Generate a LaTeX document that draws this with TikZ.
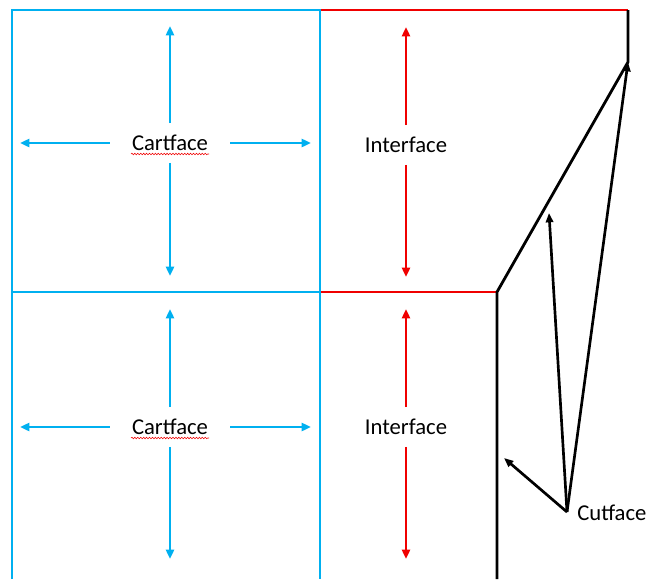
\documentclass[tikz,border=0pt]{standalone}
\usepackage{fontspec}
\setmainfont{Carlito}
\usetikzlibrary{arrows.meta,decorations.pathmorphing}
\definecolor{cartblue}{RGB}{0,176,240}
\definecolor{interred}{RGB}{240,0,0}
\tikzset{every picture/.style={line width=1.9pt}}
\tikzset{
  lbl/.style={inner sep=0pt,font=\fontsize{17}{20}\selectfont},
  facebox/.style={lbl,minimum width=88.5pt,minimum height=28pt},
  cartarrow/.style={color=cartblue,-{Triangle[length=7pt,width=6pt]}},
  interarrow/.style={color=interred,-{Triangle[length=7pt,width=6pt]}},
  cutarrow/.style={line width=2pt,-{Triangle[length=7pt,width=5.5pt]}},
  spell/.style={color=interred,line width=0.4pt,decorate,decoration={snake,amplitude=0.6pt,segment length=2.2pt}}
}

\begin{document}
\begin{tikzpicture}[x=0.75pt,y=0.75pt,yscale=-1,xscale=1]
\useasboundingbox (0,0) rectangle (646,579);

%Interface edges
\draw [color=interred] (320,10) -- (628,10) ;
\draw [color=interred] (320,292) -- (497,292) ;
%Cartface cells
\draw [color=cartblue] (12,579) -- (12,10) -- (320,10) -- (320,579) ;
\draw [color=cartblue] (12,292) -- (320,292) ;
%Cutface boundary
\coordinate (kink) at (628,62);
\draw [line width=2.1pt] (628,10) -- (kink) -- (497,292) -- (497,579) ;

% Text Node
\node [facebox] (cartT) at (170,143) {Cartface};
% Text Node
\node [facebox] (cartB) at (170,427) {Cartface};
\draw [spell] (131,154) -- (209,154) ;
\draw [spell] (131,438) -- (209,438) ;

%arrow ends, upper cell
\coordinate (cartTn) at (170,26);
\coordinate (cartTs) at (170,276);
\coordinate (cartTw) at (20,143);
\coordinate (cartTe) at (311,143);
\draw [cartarrow] (cartT.north) -- (cartTn) ;
\draw [cartarrow] (cartT.south) -- (cartTs) ;
\draw [cartarrow] (cartT.west) -- (cartTw) ;
\draw [cartarrow] (cartT.east) -- (cartTe) ;
%arrow ends, lower cell
\coordinate (cartBn) at (170,309);
\coordinate (cartBs) at (170,559);
\coordinate (cartBw) at (20,427);
\coordinate (cartBe) at (311,427);
\draw [cartarrow] (cartB.north) -- (cartBn) ;
\draw [cartarrow] (cartB.south) -- (cartBs) ;
\draw [cartarrow] (cartB.west) -- (cartBw) ;
\draw [cartarrow] (cartB.east) -- (cartBe) ;

% Text Node
\node [facebox] (interT) at (406,145) {Interface};
% Text Node
\node [facebox] (interB) at (406,427) {Interface};
\coordinate (interTn) at (406,27);
\coordinate (interTs) at (406,277);
\coordinate (interBn) at (406,309);
\coordinate (interBs) at (406,559);
\draw [interarrow] (interT.north) -- (interTn) ;
\draw [interarrow] (interT.south) -- (interTs) ;
\draw [interarrow] (interB.north) -- (interBn) ;
\draw [interarrow] (interB.south) -- (interBs) ;

% Text Node
\node [lbl,anchor=west] (cut) at (576,513) {Cutface};
\coordinate (cutp) at (567,512);
\coordinate (cutmid) at (549,213);
\coordinate (cutlow) at (504,458);
\draw [cutarrow] (cutp) -- (kink) ;
\draw [cutarrow] (cutp) -- (cutmid) ;
\draw [cutarrow] (cutp) -- (cutlow) ;

\end{tikzpicture}
\end{document}
